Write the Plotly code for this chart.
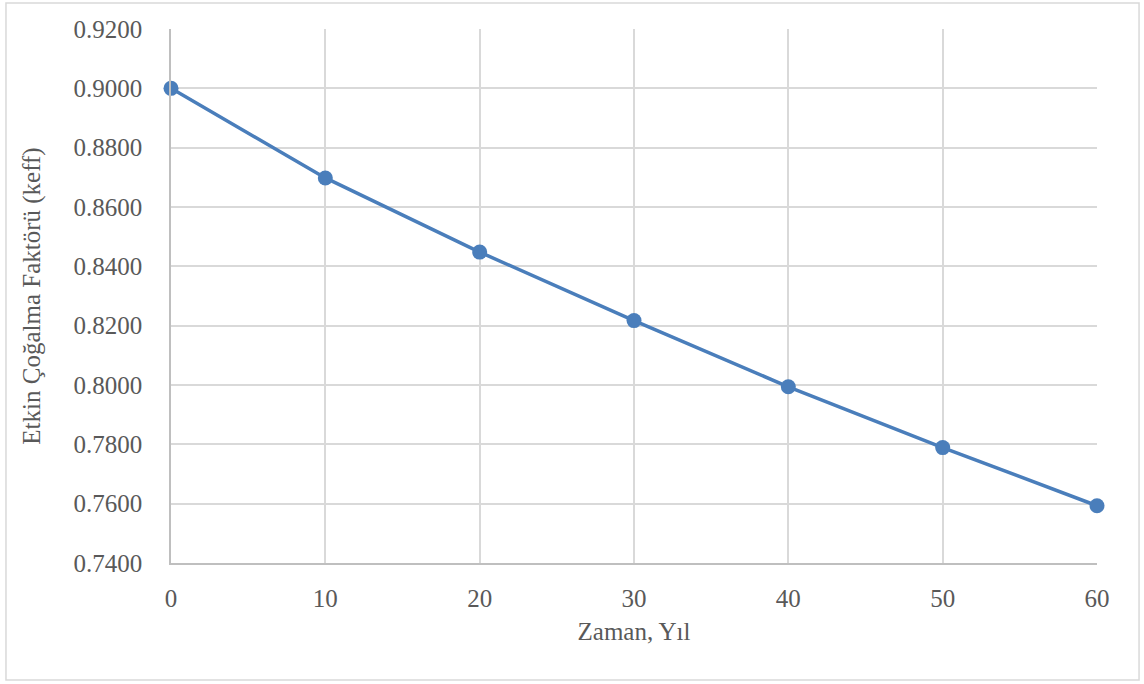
import plotly.graph_objects as go

years = [0, 10, 20, 30, 40, 50, 60]
keff = [0.9000, 0.8698, 0.8448, 0.8217, 0.7994, 0.7789, 0.7593]
y_ticks = [0.74, 0.76, 0.78, 0.80, 0.82, 0.84, 0.86, 0.88, 0.90, 0.92]
y_tick_labels = ["%.4f" % v for v in y_ticks]
x_ticks = [0, 10, 20, 30, 40, 50, 60]

FONT = "Liberation Serif"
TXT = "#595959"
GRID = "#d9d9d9"
FS = 25

fig = go.Figure()
fig.add_trace(go.Scatter(
    x=years, y=keff, mode="lines+markers",
    line=dict(color="#4a7ebb", width=3.5),
    marker=dict(color="#4a7ebb", size=15),
    showlegend=False, hoverinfo="x+y", cliponaxis=False,
))

fig.update_layout(
    width=1144, height=684,
    margin=dict(l=171, r=47, t=29, b=121),
    paper_bgcolor="white", plot_bgcolor="white",
    font=dict(family=FONT, size=FS, color=TXT),
    xaxis=dict(
        range=[0, 60], tickvals=x_ticks, ticktext=[str(v) for v in x_ticks],
        showgrid=True, gridcolor=GRID, gridwidth=1.5,
        showline=True, linecolor="#bfbfbf", linewidth=1.5,
        zeroline=False, ticks="outside", ticklen=12, tickcolor="rgba(0,0,0,0)",
        title=dict(text="Zaman, Yıl", font=dict(family=FONT, size=FS, color=TXT), standoff=12),
        tickfont=dict(family=FONT, size=FS, color=TXT),
    ),
    yaxis=dict(
        range=[0.74, 0.92], tickvals=y_ticks, ticktext=y_tick_labels,
        showgrid=True, gridcolor=GRID, gridwidth=1.5,
        showline=True, linecolor="#bfbfbf", linewidth=1.5,
        zeroline=False, ticks="outside", ticklen=22, tickcolor="rgba(0,0,0,0)",
        title=dict(text="Etkin Çoğalma Faktörü (keff)", font=dict(family=FONT, size=FS, color=TXT), standoff=26),
        tickfont=dict(family=FONT, size=FS, color=TXT),
    ),
    shapes=[dict(
        type="rect", xref="paper", yref="paper",
        x0=-0.1782, x1=1.0454, y0=-0.2191, y1=1.0487,
        line=dict(color="#d9d9d9", width=1.5), fillcolor="rgba(0,0,0,0)", layer="below",
    )],
)

fig.write_html("out.html", config={"displayModeBar": False},
               post_script="document.body.style.margin='0';document.body.style.overflow='hidden';")
